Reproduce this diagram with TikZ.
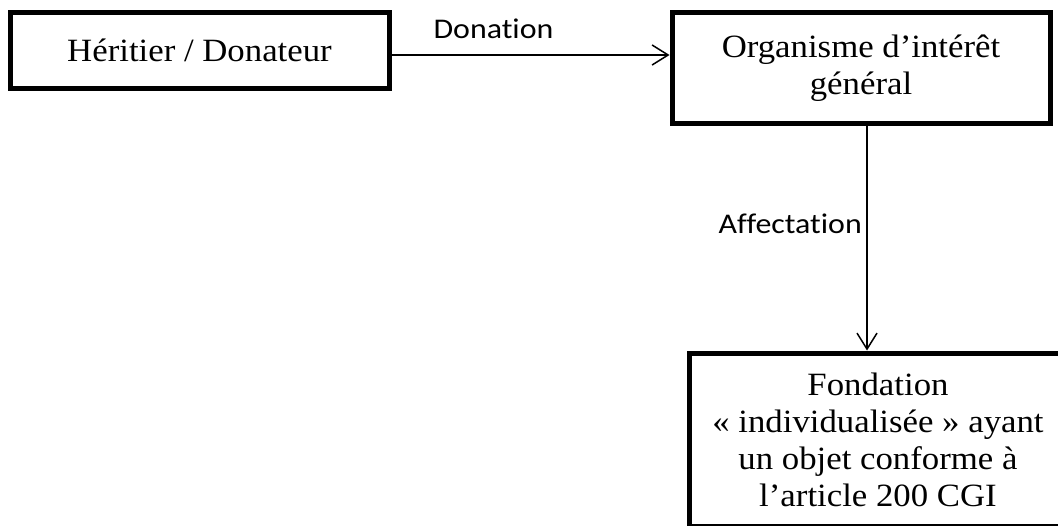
\documentclass[tikz,border=0pt]{standalone}
\usepackage{fontspec}
\setmainfont[FakeStretch=1.07]{Liberation Serif}
\newfontfamily\labfont[FakeStretch=1.12,Ligatures=NoCommon]{Carlito}
\usetikzlibrary{arrows.meta}
\begin{document}
\begin{tikzpicture}[x=1pt,y=-1pt,
  box/.style={draw, line width=5pt, rectangle, minimum width=378pt, inner sep=0pt,
    align=center, font=\fontsize{32.5}{37}\selectfont},
  conn/.style={line width=1.5pt, -{Straight Barb[length=16pt,width=20pt,line width=1.5pt]}},
  lab/.style={inner sep=0pt, font=\labfont\fontsize{28.5}{32}\selectfont}]
\useasboundingbox (0,0) rectangle (1058,525);
\fill[white] (0,0) rectangle (1058,525);
\clip (0,0) rectangle (1058,525);
\node[box, minimum width=379pt, minimum height=76pt] (a) at (199.5,50.5) {Héritier / Donateur};
\node[box, minimum height=111pt] (b) at (861,68) {Organisme d’intérêt\\général};
\node[box, minimum height=173pt] (c) at (878,439.5) {Fondation\\« individualisée » ayant\\un objet conforme à\\l’article 200 CGI};
\draw[conn] ([yshift=-4.5pt]a.east) -- ([yshift=-4.5pt]a.east -| b.west);
\draw[conn] ([xshift=6pt]b.south) -- ([xshift=6pt]b.south |- c.north);
\node[lab, anchor=base] (d) at (493.5,38) {Donation};
\node[lab, anchor=base east] (e) at (862,233) {Affectation};
\end{tikzpicture}
\end{document}
